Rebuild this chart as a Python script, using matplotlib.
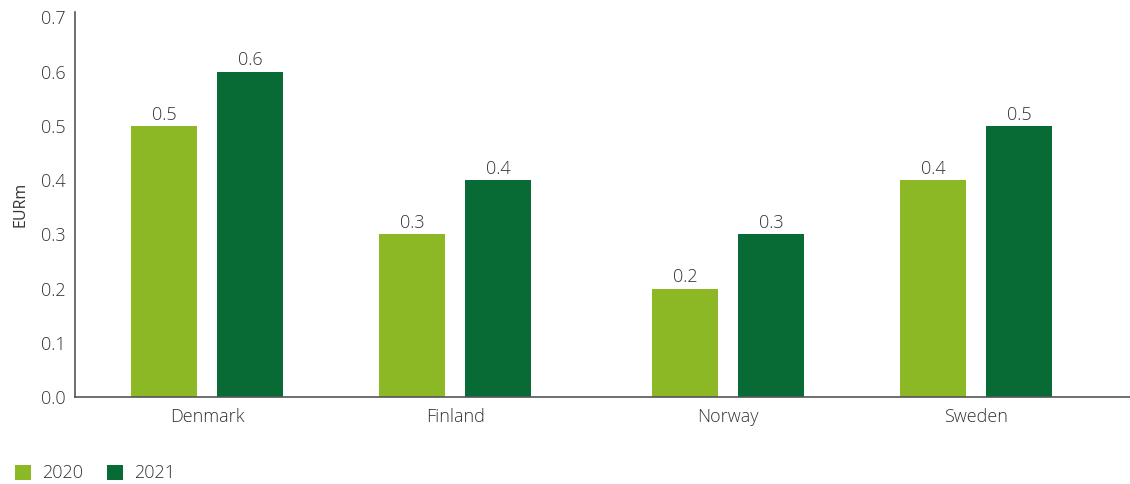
import matplotlib
matplotlib.use("Agg")
import matplotlib.pyplot as plt
from matplotlib.patches import Patch

plt.rcParams["font.family"] = ["Open Sans", "DejaVu Sans"]
plt.rcParams["font.weight"] = "light"

countries = ["Denmark", "Finland", "Norway", "Sweden"]
years = ["2020", "2021"]
values_2020 = [0.5, 0.3, 0.2, 0.4]
values_2021 = [0.6, 0.4, 0.3, 0.5]
y_ticks = [0.0, 0.1, 0.2, 0.3, 0.4, 0.5, 0.6, 0.7]

color_2020 = "#8db826"
color_2021 = "#086a35"
text_color = "#333333"
axis_color = "#555555"

# group centres (slightly wider gap between Finland and Norway)
group_x = [0.0, 1.0, 2.1, 3.1]
bar_w = 0.266
offset = 0.173

fig = plt.figure(figsize=(11.30, 4.84), dpi=100)
ax = fig.add_axes([75 / 1130, 1 - 397 / 484, 1 - 75 / 1130, (397 - 12) / 484])

for vals, sign, col in ((values_2020, -1, color_2020), (values_2021, 1, color_2021)):
    xs = [g + sign * offset for g in group_x]
    bars = ax.bar(xs, vals, width=bar_w, color=col, linewidth=0)
    for b, v in zip(bars, vals):
        ax.text(b.get_x() + b.get_width() / 2, v + 0.004, f"{v:.1f}",
                ha="center", va="bottom", fontsize=13, color=text_color)

ax.set_xlim(-0.532, 3.72)
ax.set_ylim(0, 0.71)
ax.set_yticks(y_ticks)
ax.set_yticklabels([f"{t:.1f}" for t in y_ticks])
ax.set_xticks(group_x)
ax.set_xticklabels(countries)
ax.tick_params(axis="both", length=0, labelsize=13, labelcolor=text_color)
ax.tick_params(axis="y", pad=7)
ax.tick_params(axis="x", pad=8)
ax.set_ylabel("EURm", fontsize=11.5, color=text_color, labelpad=9)

for s in ("top", "right"):
    ax.spines[s].set_visible(False)
for s in ("left", "bottom"):
    ax.spines[s].set_color(axis_color)
    ax.spines[s].set_linewidth(1.2)

handles = [Patch(facecolor=color_2020, edgecolor="none"),
           Patch(facecolor=color_2021, edgecolor="none")]
fig.legend(handles, years, loc="lower left", bbox_to_anchor=(-0.001, -0.03),
           ncol=2, frameon=False, fontsize=13, labelcolor=text_color,
           handlelength=0.9, handleheight=0.9, handletextpad=0.6,
           columnspacing=1.3)

fig.savefig("out.png", dpi=100, facecolor="white")
